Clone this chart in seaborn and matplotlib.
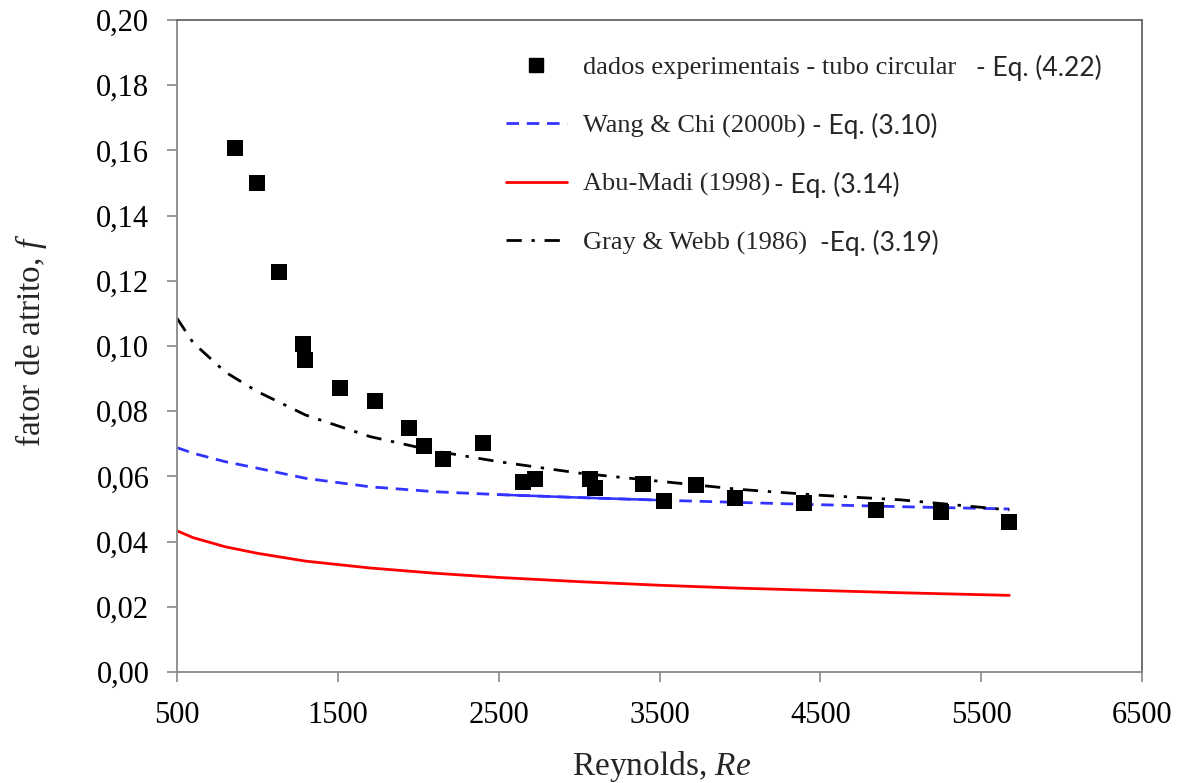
import numpy as np
import pandas as pd
import matplotlib
matplotlib.use("Agg")
import matplotlib.pyplot as plt
from matplotlib.lines import Line2D
import seaborn as sns

# Experimental friction factor, circular tube
re_exp = [861, 997, 1134, 1284, 1296, 1514, 1731, 1943, 2036, 2154, 2401,
          2649, 2728, 3068, 3099, 3399, 3530, 3727, 3969, 4400, 4844, 5250, 5675]
f_exp = [0.1607, 0.1500, 0.1227, 0.1006, 0.0957, 0.0871, 0.0831, 0.0748, 0.0693,
         0.0653, 0.0703, 0.0584, 0.0591, 0.0591, 0.0563, 0.0576, 0.0524, 0.0572,
         0.0533, 0.0517, 0.0497, 0.0492, 0.0461]

# Correlations evaluated over the Reynolds range
re_corr = [500, 600, 800, 1000, 1300, 1700, 2100, 2500, 3000, 3500, 4000, 4500, 5000, 5675]
f_wang_chi = [0.0688, 0.0671, 0.0645, 0.0625, 0.0594, 0.0568, 0.0553, 0.0544,
              0.0535, 0.0527, 0.0520, 0.0513, 0.0507, 0.0500]
f_abu_madi = [0.0433, 0.0412, 0.0384, 0.0364, 0.0340, 0.0319, 0.0303, 0.0290,
              0.0277, 0.0266, 0.0257, 0.0250, 0.0243, 0.0235]
f_gray_webb = [0.1085, 0.1010, 0.0920, 0.0860, 0.0788, 0.0722, 0.0678, 0.0645,
               0.0610, 0.0585, 0.0560, 0.0542, 0.0528, 0.0497]

labels = ["dados experimentais - tubo circular",
          "Wang & Chi (2000b)",
          "Abu-Madi (1998)",
          "Gray & Webb (1986)"]
eq_labels = ["- Eq. (4.22)", "- Eq. (3.10)", "- Eq. (3.14)", "-Eq. (3.19)"]

x_ticks = [500, 1500, 2500, 3500, 4500, 5500, 6500]
y_ticks = [0.00, 0.02, 0.04, 0.06, 0.08, 0.10, 0.12, 0.14, 0.16, 0.18, 0.20]

sns.set_theme(style="ticks")
plt.rcParams["font.family"] = ["Liberation Serif", "DejaVu Serif"]
plt.rcParams["mathtext.fontset"] = "custom"
plt.rcParams["mathtext.rm"] = "Liberation Serif"
plt.rcParams["mathtext.it"] = "Liberation Serif:italic"

exp_df = pd.DataFrame({"Re": re_exp, "f": f_exp})
corr_df = pd.DataFrame({"Re": re_corr, "wang": f_wang_chi,
                        "abu": f_abu_madi, "gray": f_gray_webb})

fig = plt.figure(figsize=(11.85, 7.83), dpi=100)
ax = fig.add_axes([0.1494, 0.1418, 0.8143, 0.8327])

blue = "#3333ff"
red = "#ff0000"
wang_dash = [4.5, 2.8]
gray_dash = [5.5, 3.5, 1.2, 3.5]

sns.lineplot(data=corr_df, x="Re", y="abu", ax=ax, color=red, lw=2.0,
             linestyle="-", zorder=2)
sns.lineplot(data=corr_df, x="Re", y="wang", ax=ax, color=blue, lw=2.0,
             zorder=2).lines[-1].set_dashes(wang_dash)
# overlapping evaluations make the mid-range of this curve look continuous
mid = corr_df[(corr_df.Re >= 2500) & (corr_df.Re <= 3700)]
sns.lineplot(data=mid, x="Re", y="wang", ax=ax, color=blue, lw=1.8, zorder=2)
sns.lineplot(data=corr_df, x="Re", y="gray", ax=ax, color="black", lw=2.0,
             zorder=2).lines[-1].set_dashes(gray_dash)
sns.scatterplot(data=exp_df, x="Re", y="f", ax=ax, marker="s", s=120,
                color="black", edgecolor="black", linewidth=0, zorder=3)

ax.set_xlim(500, 6500)
ax.set_ylim(0, 0.20)
ax.set_xticks(x_ticks)
ax.set_yticks(y_ticks)
ax.set_xticklabels([str(v) for v in x_ticks])
ax.set_yticklabels([f"{v:.2f}".replace(".", ",") for v in y_ticks])
ax.tick_params(axis="both", direction="out", length=7, width=1.2,
               color="#888888", labelsize=22, labelcolor="black")
ax.tick_params(axis="y", pad=13)
ax.tick_params(axis="x", pad=14)
for side in ["left", "bottom", "top", "right"]:
    ax.spines[side].set_visible(True)
    ax.spines[side].set_color("#888888")
    ax.spines[side].set_linewidth(1.3)
ax.spines["top"].set_color("#666666")
ax.spines["right"].set_color("#666666")

ax.set_xlabel("Reynolds, $\\it{Re}$", fontsize=24)
ax.set_ylabel("fator de atrito, $\\it{f}$", fontsize=24)
ax.xaxis.set_label_coords(0.502, -0.118)
ax.yaxis.set_label_coords(-0.133, 0.508)

handles = [
    Line2D([], [], marker="s", color="black", linestyle="none", markersize=10),
    Line2D([], [], color=blue, lw=2.0, dashes=wang_dash),
    Line2D([], [], color=red, lw=2.0),
    Line2D([], [], color="black", lw=2.0, dashes=gray_dash),
]
leg = ax.legend(handles, labels, loc="upper left", bbox_to_anchor=(0.341, 0.945),
                frameon=False, fontsize=19, handlelength=2.3, handletextpad=0.6,
                labelspacing=1.31, borderpad=0, borderaxespad=0)

fig.canvas.draw()
renderer = fig.canvas.get_renderer()
gaps = [20, 7, 4, 13]
inv = fig.transFigure.inverted()
for txt, eq, gap in zip(leg.get_texts(), eq_labels, gaps):
    bb = txt.get_window_extent(renderer)
    x0, y0 = inv.transform((bb.x1 + gap, (bb.y0 + bb.y1) / 2))
    fig.text(x0, y0, eq, fontsize=19, family=["Lato", "DejaVu Sans"],
             va="center", ha="left")

fig.savefig("out.png", dpi=100, facecolor="white")
